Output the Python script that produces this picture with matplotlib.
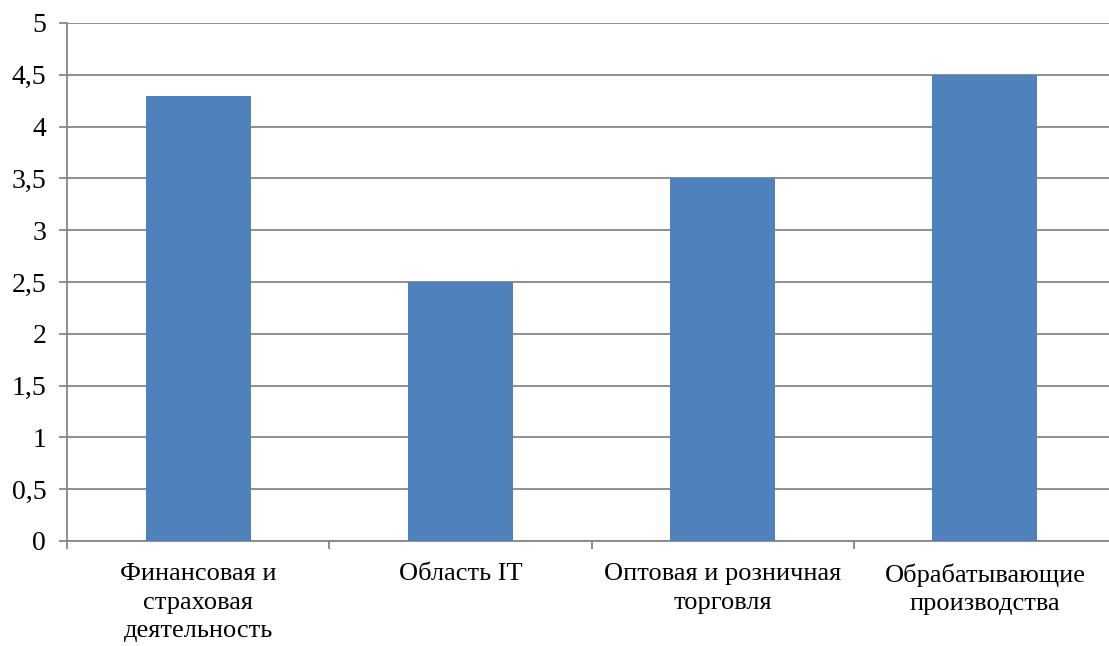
import matplotlib
matplotlib.use("Agg")
import matplotlib.pyplot as plt
from matplotlib.ticker import MultipleLocator, FuncFormatter

# data
categories = ["Финансовая и\nстраховая\nдеятельность", "Область IT",
              "Оптовая и розничная\nторговля", "Обрабатывающие\nпроизводства"]
values = [4.3, 2.5, 3.5, 4.5]

plt.rcParams['font.family'] = ['Liberation Serif', 'DejaVu Serif']
grey = '#868686'

W, H = 1109, 646
fig = plt.figure(figsize=(W / 100, H / 100), dpi=100)
# plot area: x 67..1116 px (runs past the right edge), y 23..541 px
ax = fig.add_axes([67 / W, (H - 541) / H, (1116 - 67) / W, (541 - 23) / H])

x = range(len(values))
ax.bar(x, values, width=0.4, color='#4F81BD', zorder=3)

ax.set_xlim(-0.5, len(values) - 0.5)
ax.set_ylim(0, 5)
ax.yaxis.set_major_locator(MultipleLocator(0.5))
ax.yaxis.set_major_formatter(FuncFormatter(lambda v, p: f"{v:g}".replace('.', ',')))
ax.grid(axis='y', color=grey, linewidth=1.3, zorder=0)

ax.set_xticks(list(x))
ax.set_xticklabels(categories, fontsize=19, linespacing=1.38)
ax.tick_params(axis='x', length=0, pad=16)
# category boundary ticks
ax.set_xticks([i + 0.5 for i in range(-1, len(values))], minor=True)
ax.tick_params(axis='x', which='minor', length=6, width=1.3, color=grey)
ax.tick_params(axis='y', labelsize=20, length=6, width=1.3, color=grey, pad=9)

for s in ['top', 'right']:
    ax.spines[s].set_visible(False)
for s in ['left', 'bottom']:
    ax.spines[s].set_color(grey)
    ax.spines[s].set_linewidth(1.3)

fig.savefig('out.png', dpi=100)
